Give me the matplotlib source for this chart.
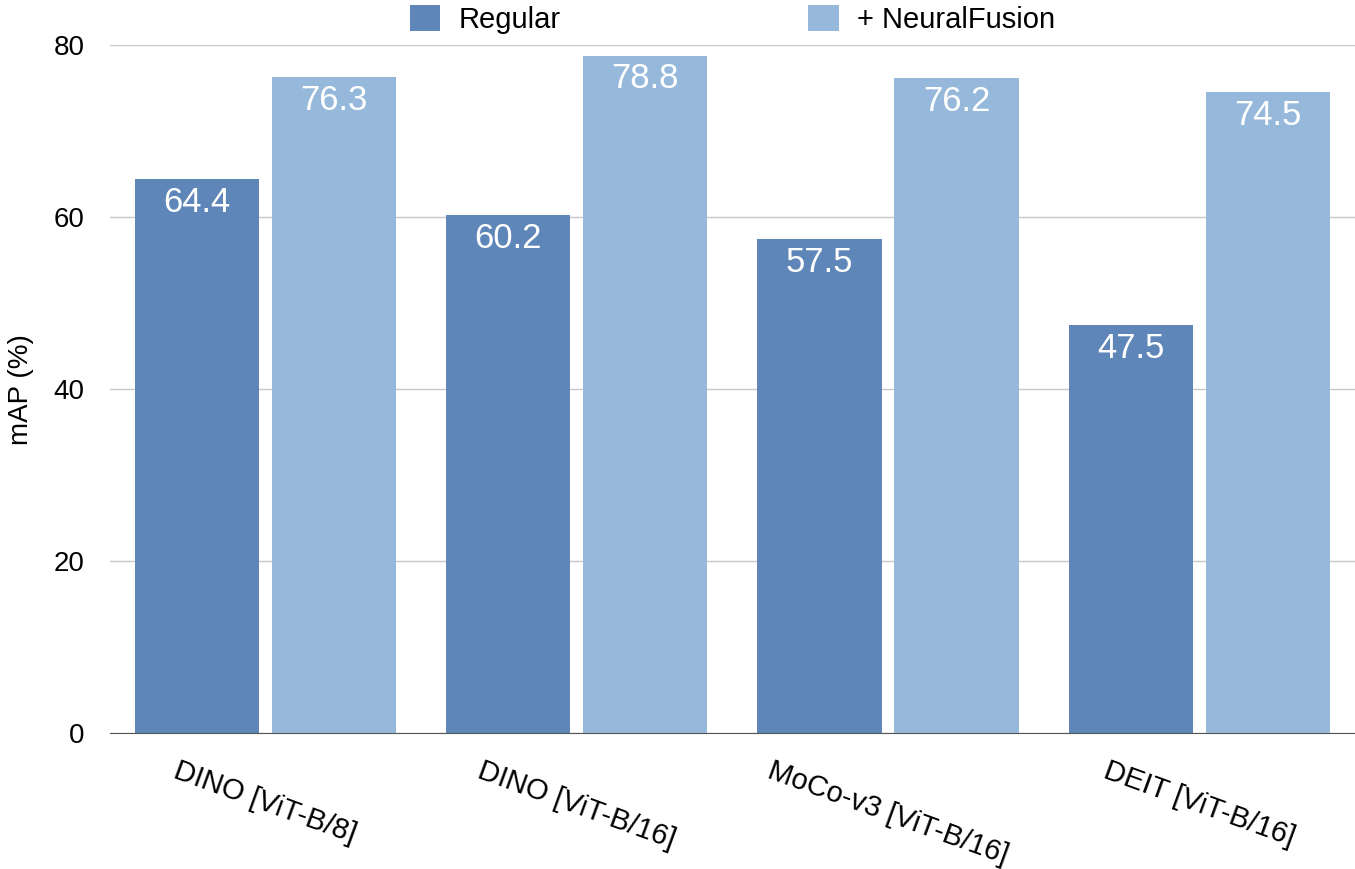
import matplotlib.pyplot as plt
import numpy as np

plt.rcParams['font.family'] = ['Liberation Sans', 'DejaVu Sans']

# Data
models = ['DINO [ViT-B/8]', 'DINO [ViT-B/16]', 'MoCo-v3 [ViT-B/16]', 'DEIT [ViT-B/16]']
regular = [64.4, 60.2, 57.5, 47.5]
fusion = [76.3, 78.8, 76.2, 74.5]

c_reg = '#5e86b8'
c_fus = '#96b9db'

fig = plt.figure(figsize=(13.55, 8.69), dpi=100)
ax = fig.add_axes([0.081, 0.1565, 0.919, 0.7915])

x = np.arange(len(models))
w = 0.40
b1 = ax.bar(x - 0.22, regular, w, color=c_reg, label='Regular', zorder=2)
b2 = ax.bar(x + 0.22, fusion, w, color=c_fus, label='+ NeuralFusion', zorder=2)

for bars, vals in [(b1, regular), (b2, fusion)]:
    for b, v in zip(bars, vals):
        ax.annotate(f'{v:.1f}', (b.get_x() + b.get_width() / 2, v),
                    xytext=(0, -5), textcoords='offset points',
                    ha='center', va='top', color='white', fontsize=25)

ax.set_xlim(-0.5, 3.5)
ax.set_ylim(0, 80)
ax.set_yticks([0, 20, 40, 60, 80])
ax.yaxis.grid(True, color='#c8c8c8', linewidth=1, zorder=0)
ax.set_axisbelow(True)
for s in ['left', 'right', 'top']:
    ax.spines[s].set_visible(False)
ax.spines['bottom'].set_color('#555555')
ax.spines['bottom'].set_zorder(3)
ax.tick_params(axis='y', length=0, pad=18, labelsize=20)
ax.tick_params(axis='x', length=0, pad=17, labelsize=21)
ax.set_xticks(x)
ax.set_xticklabels(models, rotation=-20, ha='center')
ax.set_ylabel('mAP (%)', fontsize=20, labelpad=14)

fig.legend(loc='upper center', bbox_to_anchor=(0.5406, 1.025), ncol=2, frameon=False,
           fontsize=21, handlelength=1.03, handleheight=1.03, columnspacing=8.5,
           handletextpad=0.62)

fig.savefig('out.png', dpi=100)
